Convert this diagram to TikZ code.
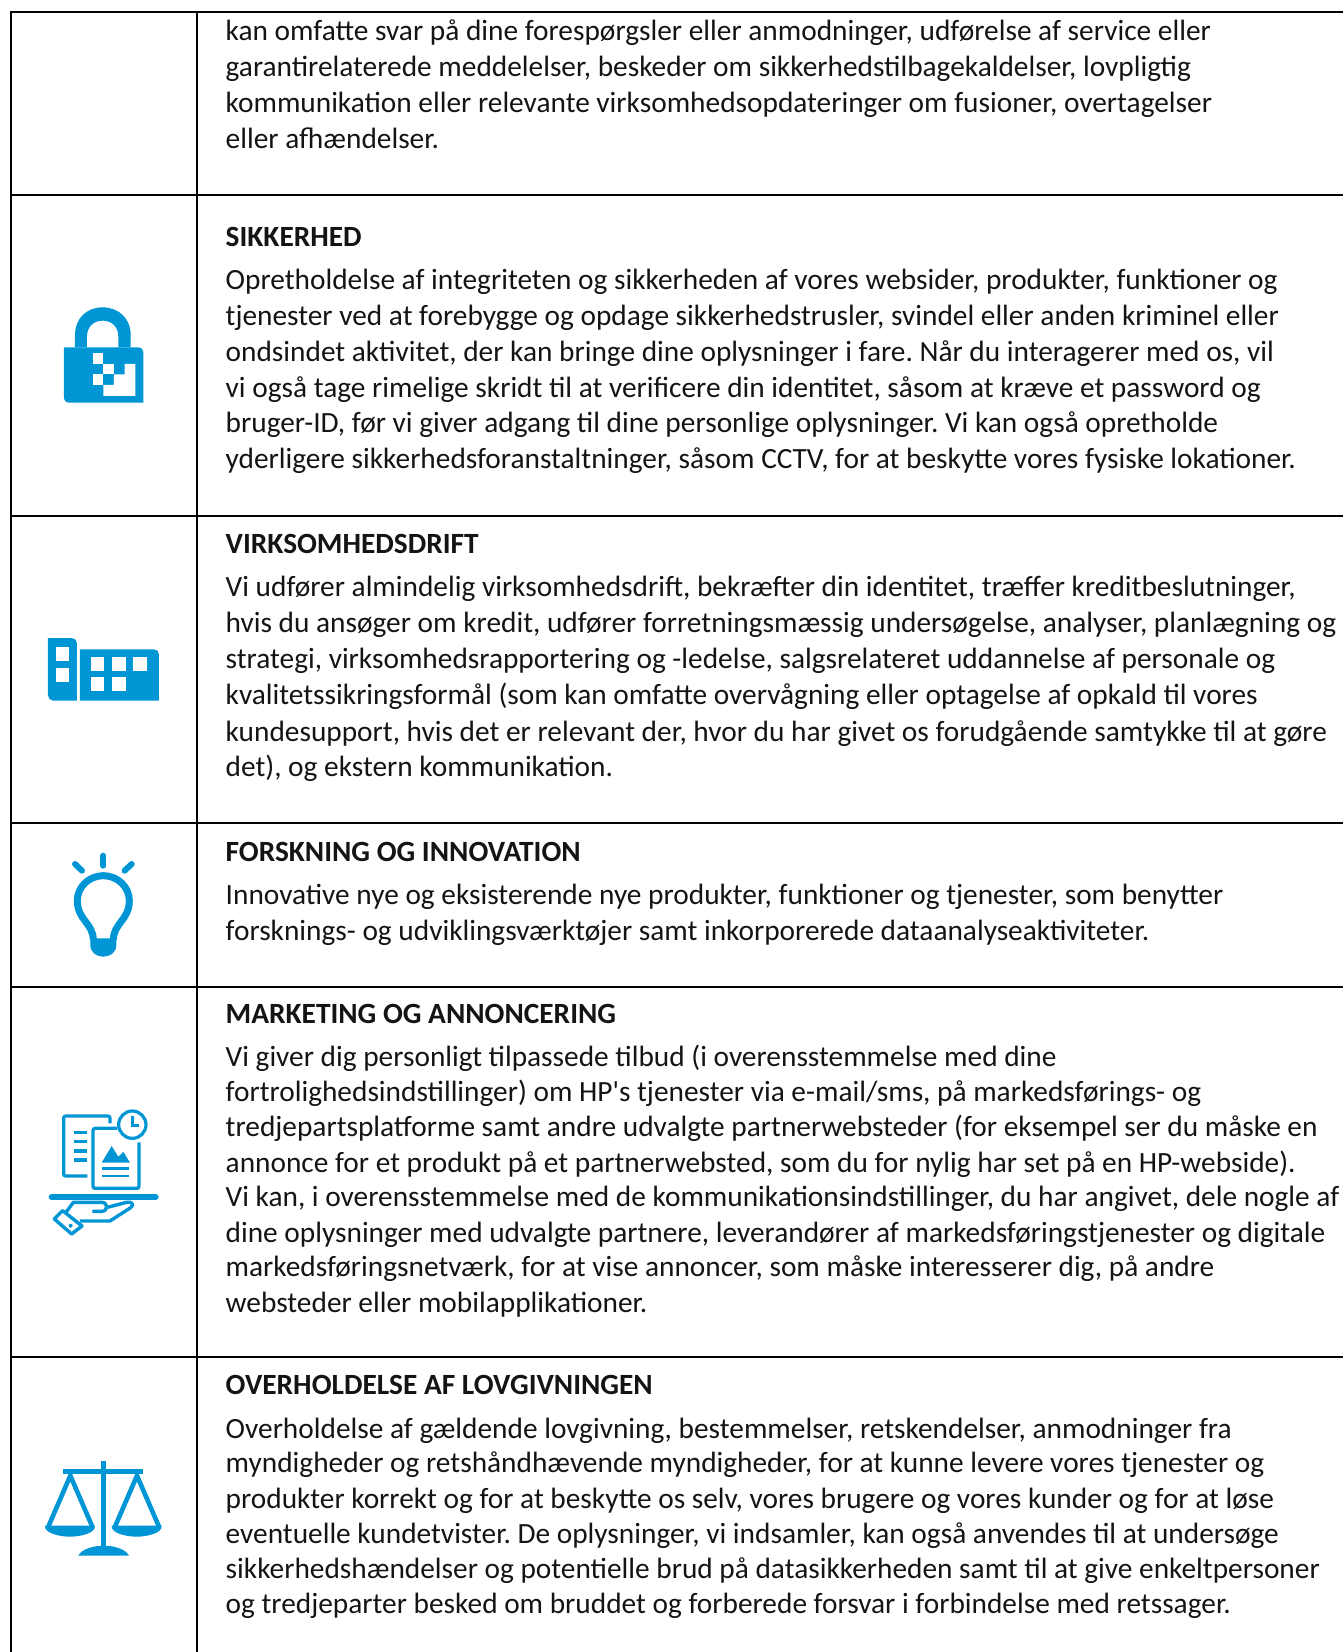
\documentclass[tikz,border=0pt]{standalone}
\usepackage{fontspec}
\setmainfont{Carlito}[Ligatures=TeXOff]
\definecolor{hpblue}{HTML}{0096D6}
\tikzset{
  body/.style={anchor=base west,inner sep=0pt,xshift=0.5pt,yshift=-1.5pt,font=\fontsize{29.35}{34}\selectfont\frenchspacing,text=black!92},
  head/.style={body,font=\fontsize{29.35}{34}\selectfont\frenchspacing\bfseries},
  rule/.style={line width=2pt,black},
  icon/.style={fill=hpblue,draw=none},
  iconline/.style={draw=hpblue,line width=#1,fill=none},
  hole/.style={fill=white,draw=none}
}
\begin{document}
\begin{tikzpicture}[x=1pt,y=-1pt]
\useasboundingbox (0,0) rectangle (1343,1652);
% table rules
\draw[rule] (1343,12) -- (11,12) -- (11,1652);
\draw[rule] (197,12) -- (197,1652);
\foreach \yy in {195,516,823,987,1357} \draw[rule] (11,\yy) -- (1343,\yy);
% texts
\node[body] (a1) at (225,39) {kan omfatte svar på dine forespørgsler eller anmodninger, udførelse af service eller};
\node[body] (a2) at (225,75) {garantirelaterede meddelelser, beskeder om sikkerhedstilbagekaldelser, lovpligtig};
\node[body] (a3) at (225,111) {kommunikation eller relevante virksomhedsopdateringer om fusioner, overtagelser};
\node[body] (a4) at (225,146.5) {eller afhændelser.};
\node[head] (b0) at (225,245) {SIKKERHED};
\node[body] (b1) at (225,287.6) {Opretholdelse af integriteten og sikkerheden af vores websider, produkter, funktioner og};
\node[body] (b2) at (225,324) {tjenester ved at forebygge og opdage sikkerhedstrusler, svindel eller anden kriminel eller};
\node[body] (b3) at (225,360.3) {ondsindet aktivitet, der kan bringe dine oplysninger i fare. Når du interagerer med os, vil};
\node[body] (b4) at (225,396) {vi også tage rimelige skridt til at verificere din identitet, såsom at kræve et password og};
\node[body] (b5) at (225,431) {bruger-ID, før vi giver adgang til dine personlige oplysninger. Vi kan også opretholde};
\node[body] (b6) at (225,467) {yderligere sikkerhedsforanstaltninger, såsom CCTV, for at beskytte vores fysiske lokationer.};
\node[head] (c0) at (225,552) {VIRKSOMHEDSDRIFT};
\node[body] (c1) at (225,595) {Vi udfører almindelig virksomhedsdrift, bekræfter din identitet, træffer kreditbeslutninger,};
\node[body] (c2) at (225,631) {hvis du ansøger om kredit, udfører forretningsmæssig undersøgelse, analyser, planlægning og};
\node[body] (c3) at (225,667) {strategi, virksomhedsrapportering og -ledelse, salgsrelateret uddannelse af personale og};
\node[body] (c4) at (225,702.7) {kvalitetssikringsformål (som kan omfatte overvågning eller optagelse af opkald til vores};
\node[body] (c5) at (225,739.5) {kundesupport, hvis det er relevant der, hvor du har givet os forudgående samtykke til at gøre};
\node[body] (c6) at (225,775) {det), og ekstern kommunikation.};
\node[head] (d0) at (225,859.6) {FORSKNING OG INNOVATION};
\node[body] (d1) at (225,902.8) {Innovative nye og eksisterende nye produkter, funktioner og tjenester, som benytter};
\node[body] (d2) at (225,938.6) {forsknings- og udviklingsværktøjer samt inkorporerede dataanalyseaktiviteter.};
\node[head] (e0) at (225,1021.8) {MARKETING OG ANNONCERING};
\node[body] (e1) at (225,1065) {Vi giver dig personligt tilpassede tilbud (i overensstemmelse med dine};
\node[body] (e2) at (225,1099.7) {fortrolighedsindstillinger) om HP's tjenester via e-mail/sms, på markedsførings- og};
\node[body] (e3) at (225,1134.5) {tredjepartsplatforme samt andre udvalgte partnerwebsteder (for eksempel ser du måske en};
\node[body] (e4) at (225,1171) {annonce for et produkt på et partnerwebsted, som du for nylig har set på en HP-webside).};
\node[body] (e5) at (225,1205) {Vi kan, i overensstemmelse med de kommunikationsindstillinger, du har angivet, dele nogle af};
\node[body] (e6) at (225,1241) {dine oplysninger med udvalgte partnere, leverandører af markedsføringstjenester og digitale};
\node[body] (e7) at (225,1274.6) {markedsføringsnetværk, for at vise annoncer, som måske interesserer dig, på andre};
\node[body] (e8) at (225,1311) {websteder eller mobilapplikationer.};
\node[head] (f0) at (225,1392.6) {OVERHOLDELSE AF LOVGIVNINGEN};
\node[body] (f1) at (225,1436.8) {Overholdelse af gældende lovgivning, bestemmelser, retskendelser, anmodninger fra};
\node[body] (f2) at (225,1471) {myndigheder og retshåndhævende myndigheder, for at kunne levere vores tjenester og};
\node[body] (f3) at (225,1507.4) {produkter korrekt og for at beskytte os selv, vores brugere og vores kunder og for at løse};
\node[body] (f4) at (225,1542) {eventuelle kundetvister. De oplysninger, vi indsamler, kan også anvendes til at undersøge};
\node[body] (f5) at (225,1577) {sikkerhedshændelser og potentielle brud på datasikkerheden samt til at give enkeltpersoner};
\node[body] (f6) at (225,1611.6) {og tredjeparter besked om bruddet og forberede forsvar i forbindelse med retssager.};
% lock
\begin{scope}[shift={(30,290)},x=0.3333pt,y=-0.3333pt]
\fill[icon] (102,172) -- (326,172) .. controls (334,172) and (340,178) .. (340,186) -- (340,338) -- (118,338) .. controls (108,338) and (102,332) .. (102,322) -- cycle;
\fill[icon] (135,172) -- (135,135) .. controls (135,85) and (170,52) .. (218,52) .. controls (266,52) and (302,85) .. (302,135) -- (302,172) -- (265,172) -- (265,140) .. controls (265,110) and (245,92) .. (218,92) .. controls (191,92) and (171,110) .. (171,140) -- (171,172) -- cycle;
\fill[hole] (188,190) rectangle (220,221);
\fill[hole] (220,222) rectangle (252,253);
\fill[hole] (188,253) rectangle (220,285);
\fill[hole] (284,222) -- (316,222) -- (316,318) -- (220,318) -- (220,285) -- (252,285) -- (252,253) -- (284,253) -- cycle;
\end{scope}
% building
\begin{scope}[shift={(30,620)},x=0.3333pt,y=-0.3333pt]
\fill[icon] (54,54) -- (125,54) .. controls (134,54) and (141,61) .. (141,70) -- (141,242) -- (70,242) .. controls (61,242) and (54,235) .. (54,226) -- cycle;
\fill[icon] (150,88) -- (372,88) .. controls (381,88) and (387,94) .. (387,103) -- (387,242) -- (150,242) -- cycle;
\fill[hole] (77,80) rectangle (117,122);
\fill[hole] (77,145) rectangle (117,186);
\fill[hole] (183,112) rectangle (223,152);
\fill[hole] (247,112) rectangle (287,152);
\fill[hole] (310,112) rectangle (351,152);
\fill[hole] (183,172) rectangle (223,213);
\fill[hole] (247,172) rectangle (287,213);
\end{scope}
% bulb
\begin{scope}[shift={(50,840)},x=0.3333pt,y=-0.3333pt]
\draw[iconline=6pt,line cap=round] (160,47) -- (160,77);
\draw[iconline=6pt,line cap=round] (75,72) -- (96,92);
\draw[iconline=6pt,line cap=round] (245,72) -- (224,92);
\draw[iconline=7pt] (130,300) .. controls (130,250) and (82,240) .. (82,182) .. controls (82,140) and (118,107) .. (160,107) .. controls (202,107) and (238,140) .. (238,182) .. controls (238,240) and (190,250) .. (190,300);
\fill[icon] (121,295) -- (199,295) -- (199,315) .. controls (199,338) and (180,350) .. (160,350) .. controls (140,350) and (121,338) .. (121,315) -- cycle;
\end{scope}
% marketing
\begin{scope}[shift={(30,1095)},x=0.3333pt,y=-0.3333pt]
\draw[iconline=3.2pt,rounded corners=2pt] (172,243) -- (101,243) -- (101,63) -- (240,63) -- (240,85);
\draw[iconline=3.2pt] (133,113) -- (170,113) (133,140) -- (170,140) (133,168) -- (170,168) (133,195) -- (170,195);
\draw[iconline=3.2pt,rounded corners=2pt] (262,100) -- (189,100) -- (189,280) -- (327,280) -- (327,142);
\draw[iconline=3.2pt] (307,89) circle [radius=41];
\draw[iconline=2.6pt] (307,62) -- (307,92) -- (328,92);
\fill[icon] (215,203) -- (245,153) -- (265,185) -- (280,170) -- (300,203) -- cycle;
\draw[iconline=2.6pt] (217,221) -- (297,221) (217,243) -- (297,243);
\draw[iconline=6pt,line cap=round] (65,306) -- (377,306);
\draw[iconline=3.4pt,line join=round] (73,372) -- (98,347) -- (156,393) -- (125,417) -- cycle;
\fill[icon] (122,392) circle [radius=6];
\draw[iconline=3.4pt,line join=round] (108,352) -- (130,322) -- (215,322) .. controls (235,322) and (235,349) .. (215,349) -- (187,349);
\draw[iconline=3.4pt,line join=round] (232,337) -- (290,322) .. controls (306,318) and (314,330) .. (302,338) -- (240,378) -- (150,378);
\end{scope}
% scales
\begin{scope}[shift={(30,1445)},x=0.3333pt,y=-0.3333pt]
\fill[icon] (214,47) rectangle (229,310);
\fill[icon] (100,72) rectangle (340,88);
\draw[iconline=4.6pt,line join=miter] (55,245) -- (121,92) -- (187,245);
\draw[iconline=4.6pt,line join=miter] (255,245) -- (321,92) -- (387,245);
\fill[icon] (45,242) -- (195,242) .. controls (198,265) and (150,275) .. (120,275) .. controls (90,275) and (42,265) .. (45,242) -- cycle;
\fill[icon] (245,242) -- (395,242) .. controls (398,265) and (350,275) .. (320,275) .. controls (290,275) and (242,265) .. (245,242) -- cycle;
\fill[icon] (145,332) .. controls (155,312) and (190,302) .. (221,302) .. controls (252,302) and (287,312) .. (297,332) -- cycle;
\end{scope}
\end{tikzpicture}
\end{document}
